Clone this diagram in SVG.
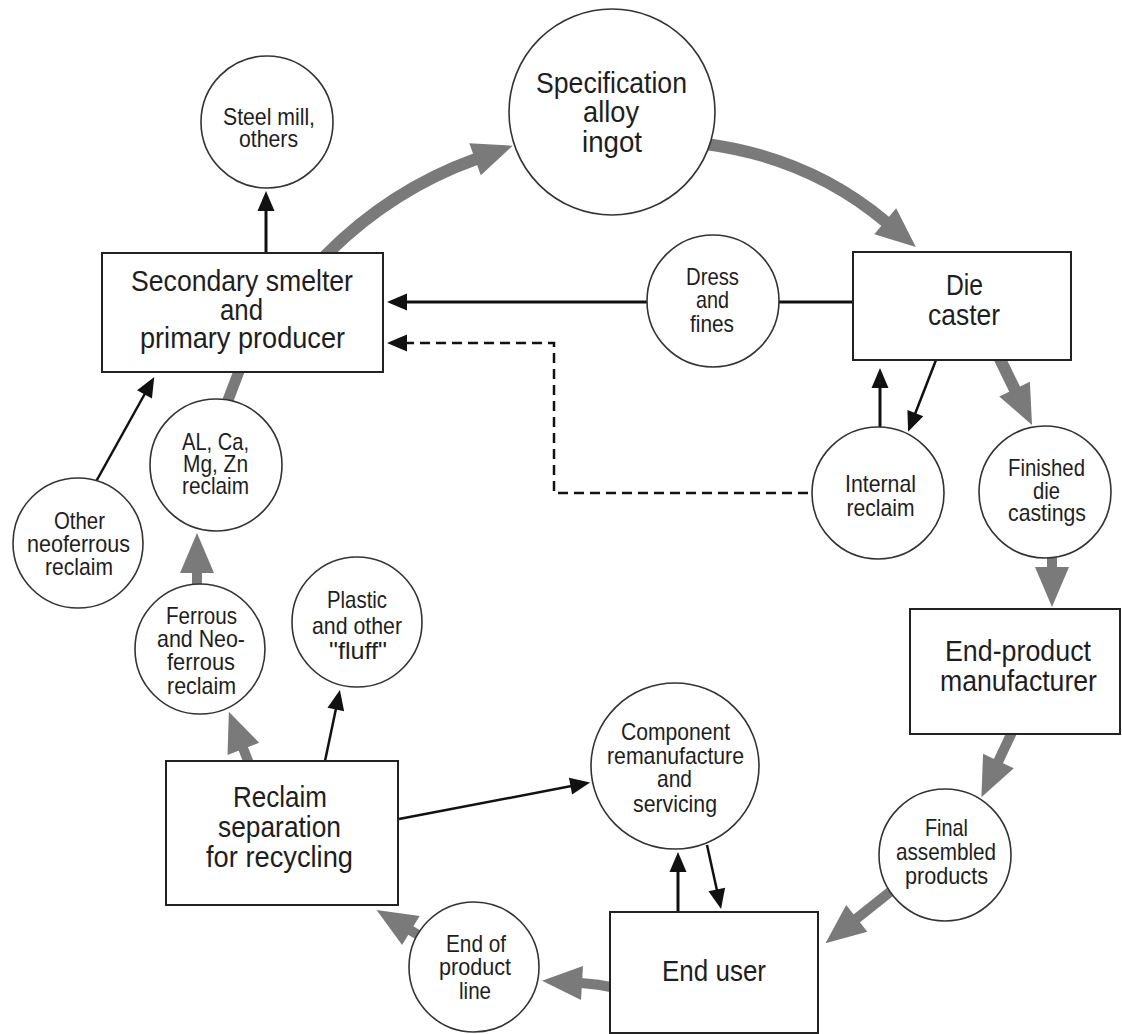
<svg xmlns="http://www.w3.org/2000/svg" width="1122" height="1034" viewBox="0 0 1122 1034">
<style>
.bg{fill:#ffffff}
.node circle,.node ellipse{fill:#ffffff;stroke:#333333;stroke-width:1.6}
.node rect{fill:#ffffff;stroke:#222222;stroke-width:2}
text{font-family:"Liberation Sans Narrow","Liberation Sans",Arial,sans-serif;fill:#1e1e1e;text-anchor:middle}
.lg{font-size:29px}
.sm{font-size:24px}
.g{fill:none;stroke:#7a7a7a;stroke-width:12;marker-end:url(#ga)}
.gs{fill:none;stroke:#7a7a7a;stroke-width:10;marker-end:url(#ga)}
.gn{fill:none;stroke:#7a7a7a;stroke-width:11}
.b{fill:none;stroke:#111111;stroke-width:3;marker-end:url(#ba)}
.bt{fill:none;stroke:#111111;stroke-width:2.5;marker-end:url(#ba)}
.d{fill:none;stroke:#111111;stroke-width:2.5;stroke-dasharray:10,6;marker-end:url(#ba)}
.ln{fill:none;stroke:#111111;stroke-width:3}
</style>
<defs>
<marker id="ga" markerUnits="userSpaceOnUse" markerWidth="44" markerHeight="38" viewBox="-2 -19 44 38" refX="1" refY="0" orient="auto" overflow="visible">
<path d="M0,-17 L40,0 L0,17 Z" fill="#7a7a7a"/>
</marker>
<marker id="ba" markerUnits="userSpaceOnUse" markerWidth="24" markerHeight="20" viewBox="-2 -10 24 20" refX="1" refY="0" orient="auto" overflow="visible">
<path d="M0,-8.5 L20,0 L0,8.5 Z" fill="#111111"/>
</marker>
</defs>
<rect class="bg" x="0" y="0" width="1122" height="1034"/>
<g id="connectors">
<path class="g" d="M325,256 Q390,190 476,159"/>
<path class="g" d="M706,144 Q810,158 886,222"/>
<path class="g" d="M998,355 L1015,390"/>
<path class="gs" d="M1052,548 V568"/>
<path class="gs" d="M1014,728 L998,762"/>
<path class="gs" d="M900,884 L856,919"/>
<path class="gs" d="M616,988 Q598,984 581,983"/>
<path class="gs" d="M430,942 L410,930"/>
<path class="gs" d="M250,766 L243,748"/>
<path class="gs" d="M197,594 V572"/>
<path class="gn" d="M225,408 L241,366"/>
<path class="b" d="M266,253 V210"/>
<path class="b" d="M853,302 H406"/>
<path class="d" d="M808,493 H554 V343 H406"/>
<path class="b" d="M880,427 V387"/>
<path class="bt" d="M936,360 L915,414"/>
<path class="bt" d="M93,487 L145,393.5"/>
<path class="bt" d="M325,761 L336,708.5"/>
<path class="bt" d="M399,819 L571.5,786"/>
<path class="b" d="M678,912 V871"/>
<path class="bt" d="M707,845 L717,890.5"/>
</g>
<g id="steel-mill" class="node">
<circle cx="267" cy="122" r="66"/>
<text class="sm" x="269" y="125" textLength="92" lengthAdjust="spacingAndGlyphs">Steel mill,</text>
<text class="sm" x="268.5" y="147" textLength="59" lengthAdjust="spacingAndGlyphs">others</text>
</g>
<g id="spec-alloy-ingot" class="node">
<circle cx="612" cy="112" r="103"/>
<text class="lg" x="611.5" y="93" textLength="151" lengthAdjust="spacingAndGlyphs">Specification</text>
<text class="lg" x="611" y="122" textLength="56" lengthAdjust="spacingAndGlyphs">alloy</text>
<text class="lg" x="612" y="152" textLength="60" lengthAdjust="spacingAndGlyphs">ingot</text>
</g>
<g id="secondary-smelter" class="node">
<rect x="102" y="253" width="281" height="119"/>
<text class="lg" x="242" y="291" textLength="222" lengthAdjust="spacingAndGlyphs">Secondary smelter</text>
<text class="lg" x="241.5" y="320" textLength="43" lengthAdjust="spacingAndGlyphs">and</text>
<text class="lg" x="242.5" y="348" textLength="205" lengthAdjust="spacingAndGlyphs">primary producer</text>
</g>
<g id="dress-fines" class="node">
<circle cx="713" cy="301" r="66"/>
<text class="sm" x="712.5" y="285" textLength="53" lengthAdjust="spacingAndGlyphs">Dress</text>
<text class="sm" x="712.5" y="308" textLength="33" lengthAdjust="spacingAndGlyphs">and</text>
<text class="sm" x="712" y="332" textLength="44" lengthAdjust="spacingAndGlyphs">fines</text>
</g>
<g id="die-caster" class="node">
<rect x="853" y="252" width="218" height="108"/>
<text class="lg" x="964.5" y="295" textLength="37" lengthAdjust="spacingAndGlyphs">Die</text>
<text class="lg" x="964" y="325" textLength="72" lengthAdjust="spacingAndGlyphs">caster</text>
</g>
<g id="internal-reclaim" class="node">
<circle cx="878" cy="493" r="66"/>
<text class="sm" x="880.5" y="492" textLength="71" lengthAdjust="spacingAndGlyphs">Internal</text>
<text class="sm" x="880.5" y="516" textLength="68" lengthAdjust="spacingAndGlyphs">reclaim</text>
</g>
<g id="finished-die-castings" class="node">
<circle cx="1045" cy="492" r="66"/>
<text class="sm" x="1046.5" y="476" textLength="77" lengthAdjust="spacingAndGlyphs">Finished</text>
<text class="sm" x="1046.5" y="499" textLength="27" lengthAdjust="spacingAndGlyphs">die</text>
<text class="sm" x="1047" y="521" textLength="78" lengthAdjust="spacingAndGlyphs">castings</text>
</g>
<g id="al-ca-mg-zn" class="node">
<circle cx="216" cy="465" r="66"/>
<text class="sm" x="215.5" y="450" textLength="67" lengthAdjust="spacingAndGlyphs">AL, Ca,</text>
<text class="sm" x="215.5" y="472" textLength="65" lengthAdjust="spacingAndGlyphs">Mg, Zn</text>
<text class="sm" x="215.5" y="494" textLength="67" lengthAdjust="spacingAndGlyphs">reclaim</text>
</g>
<g id="other-neoferrous" class="node">
<circle cx="78" cy="543" r="65"/>
<text class="sm" x="79.5" y="529" textLength="51" lengthAdjust="spacingAndGlyphs">Other</text>
<text class="sm" x="78.5" y="552" textLength="103" lengthAdjust="spacingAndGlyphs">neoferrous</text>
<text class="sm" x="79" y="575" textLength="68" lengthAdjust="spacingAndGlyphs">reclaim</text>
</g>
<g id="ferrous-neoferrous" class="node">
<circle cx="200" cy="649" r="65"/>
<text class="sm" x="201.5" y="624" textLength="71" lengthAdjust="spacingAndGlyphs">Ferrous</text>
<text class="sm" x="201" y="647" textLength="88" lengthAdjust="spacingAndGlyphs">and Neo-</text>
<text class="sm" x="201" y="670" textLength="68" lengthAdjust="spacingAndGlyphs">ferrous</text>
<text class="sm" x="201.5" y="694" textLength="69" lengthAdjust="spacingAndGlyphs">reclaim</text>
</g>
<g id="plastic-fluff" class="node">
<circle cx="357" cy="622" r="65"/>
<text class="sm" x="357" y="608" textLength="60" lengthAdjust="spacingAndGlyphs">Plastic</text>
<text class="sm" x="357" y="634" textLength="90" lengthAdjust="spacingAndGlyphs">and other</text>
<text class="sm" x="358" y="659" textLength="58" lengthAdjust="spacingAndGlyphs">"fluff"</text>
</g>
<g id="reclaim-separation" class="node">
<rect x="166" y="761" width="232" height="144"/>
<text class="lg" x="280" y="807" textLength="94" lengthAdjust="spacingAndGlyphs">Reclaim</text>
<text class="lg" x="279.5" y="837" textLength="123" lengthAdjust="spacingAndGlyphs">separation</text>
<text class="lg" x="279.5" y="867" textLength="147" lengthAdjust="spacingAndGlyphs">for recycling</text>
</g>
<g id="component-remanufacture" class="node">
<ellipse cx="675" cy="766" rx="84" ry="83"/>
<text class="sm" x="675.5" y="740" textLength="109" lengthAdjust="spacingAndGlyphs">Component</text>
<text class="sm" x="675.5" y="764" textLength="137" lengthAdjust="spacingAndGlyphs">remanufacture</text>
<text class="sm" x="674.5" y="787" textLength="35" lengthAdjust="spacingAndGlyphs">and</text>
<text class="sm" x="675" y="812" textLength="84" lengthAdjust="spacingAndGlyphs">servicing</text>
</g>
<g id="end-of-product-line" class="node">
<circle cx="474" cy="967" r="65"/>
<text class="sm" x="476" y="952" textLength="60" lengthAdjust="spacingAndGlyphs">End of</text>
<text class="sm" x="475" y="975" textLength="72" lengthAdjust="spacingAndGlyphs">product</text>
<text class="sm" x="475" y="999" textLength="32" lengthAdjust="spacingAndGlyphs">line</text>
</g>
<g id="end-user" class="node">
<rect x="610" y="912" width="208" height="121"/>
<text class="lg" x="714" y="981" textLength="104" lengthAdjust="spacingAndGlyphs">End user</text>
</g>
<g id="end-product-manufacturer" class="node">
<rect x="910" y="609" width="210" height="125"/>
<text class="lg" x="1018" y="661" textLength="146" lengthAdjust="spacingAndGlyphs">End-product</text>
<text class="lg" x="1018.5" y="691" textLength="157" lengthAdjust="spacingAndGlyphs">manufacturer</text>
</g>
<g id="final-assembled-products" class="node">
<circle cx="945" cy="855" r="66"/>
<text class="sm" x="946.5" y="836" textLength="43" lengthAdjust="spacingAndGlyphs">Final</text>
<text class="sm" x="946" y="860" textLength="100" lengthAdjust="spacingAndGlyphs">assembled</text>
<text class="sm" x="946.5" y="884" textLength="83" lengthAdjust="spacingAndGlyphs">products</text>
</g>
</svg>
